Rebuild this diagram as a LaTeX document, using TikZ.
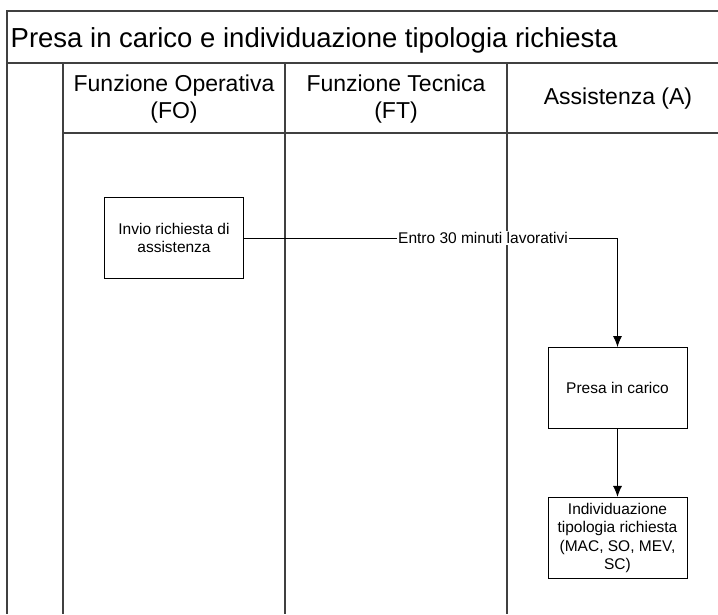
\documentclass[tikz,border=0pt]{standalone}
\usepackage{fontspec}
\setmainfont{Liberation Sans}
\usetikzlibrary{arrows.meta,positioning}
\definecolor{framegray}{HTML}{404040}

\begin{document}
\begin{tikzpicture}[x=1pt,y=-1pt,
    frame/.style={draw=framegray,line width=1.3pt},
    task/.style={draw,line width=0.9pt,minimum width=139pt,minimum height=81pt,
        align=center,inner sep=2pt,font=\fontsize{15.5}{18.3}\selectfont},
    lanehead/.style={align=center,font=\fontsize{23}{27}\selectfont},
    flow/.style={line width=0.9pt,-{Latex[length=11pt,width=9pt]}}]
\useasboundingbox (0,0) rectangle (718,614);
% pool frame
\draw[frame] (718,11) -- (7,11) -- (7,614);
\draw[frame] (7,63) -- (718,63);
\draw[frame] (63,133) -- (718,133);
\foreach \x in {63,285,507}
    \draw[frame] (\x,63) -- (\x,614);
\node[anchor=base west,inner sep=0,font=\fontsize{27.5}{33}\selectfont] (title) at (10.5,47)
    {Presa in carico e individuazione tipologia richiesta};
% lane headers
\foreach \x/\n/\t in {174/fo/{Funzione Operativa\\(FO)}, 396/ft/{Funzione Tecnica\\(FT)}, 618/as/{Assistenza (A)}}
    \node[lanehead] (\n) at (\x,99) {\t};
% tasks
\node[task] (invio) at (174,238) {Invio richiesta di\\assistenza};
\node[task] (presa) at (617.5,388) {Presa in carico};
\node[task,below=68pt of presa] (indiv) {Individuazione\\tipologia richiesta\\(MAC, SO, MEV,\\SC)};
\draw[flow] (invio) -| node[pos=0.32,fill=white,inner sep=1pt,font=\fontsize{15.5}{18}\selectfont]
    {Entro 30 minuti lavorativi} (presa);
\draw[flow] (presa) -- (indiv);
\end{tikzpicture}
\end{document}
